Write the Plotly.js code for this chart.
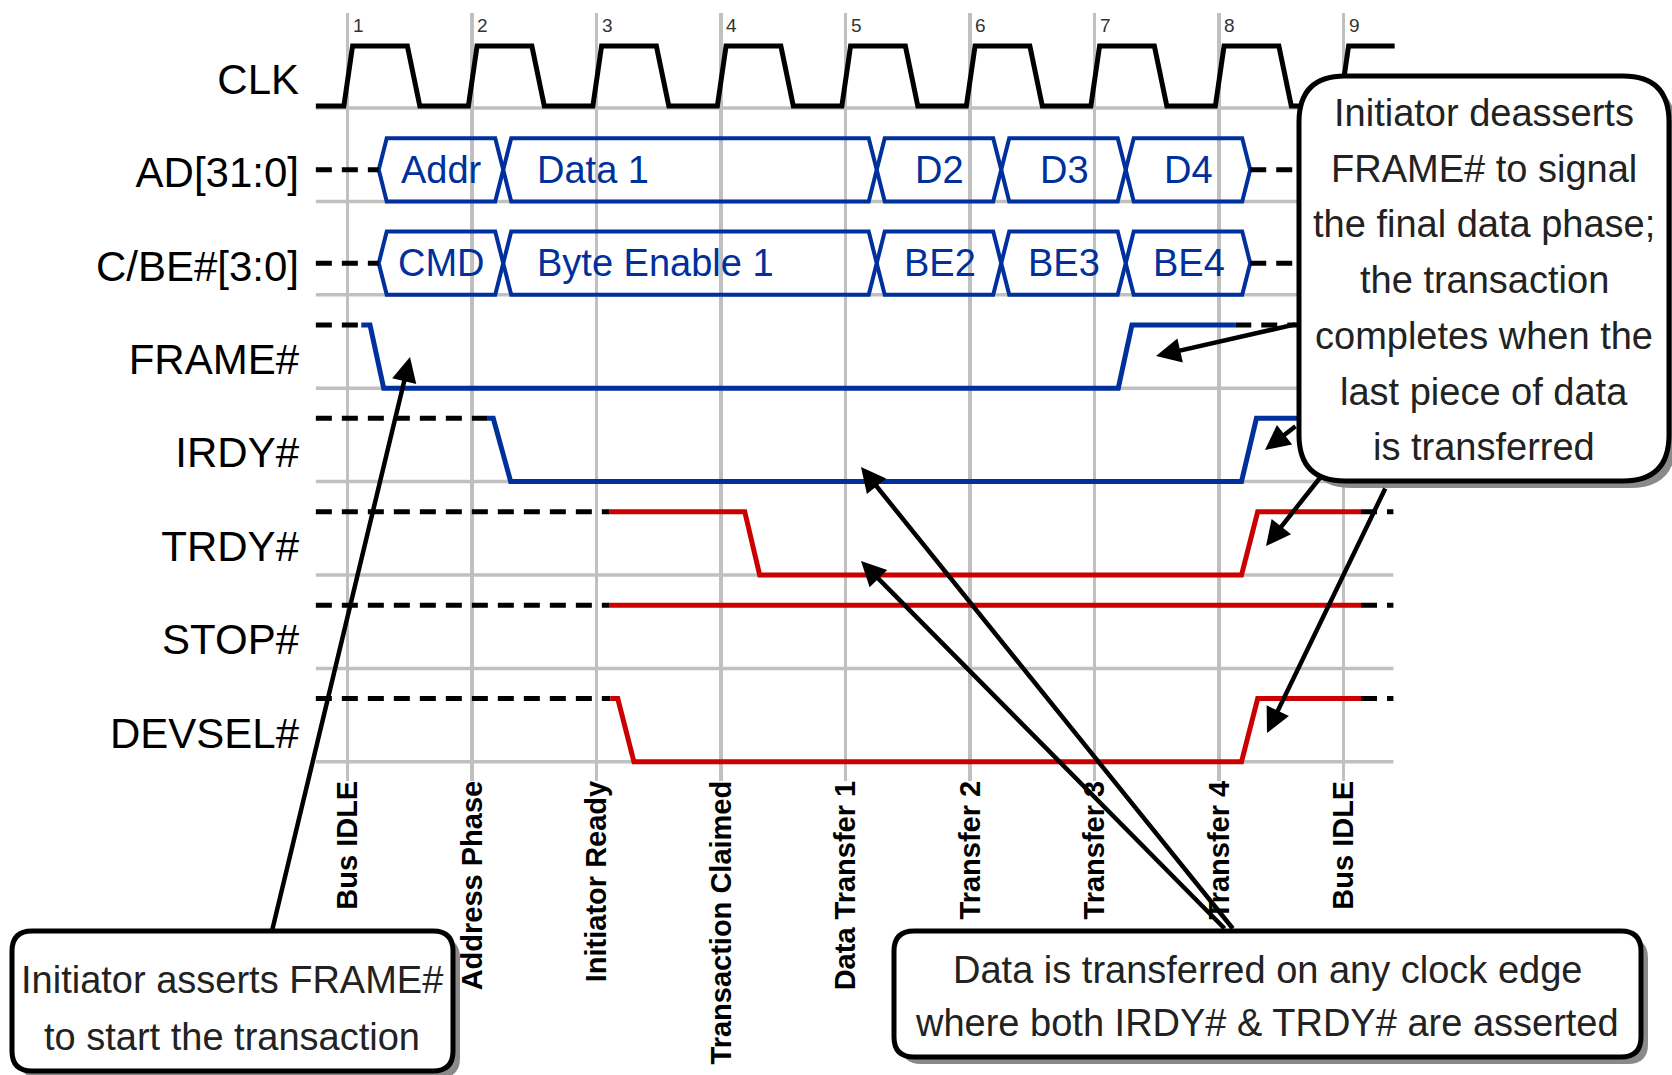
<!DOCTYPE html>
<html><head><meta charset="utf-8">
<script src="https://cdn.plot.ly/plotly-3.0.1.min.js"></script>
<style>html,body{margin:0;padding:0;background:#fff;} #chart{width:1672px;height:1075px;}</style>
</head><body><div id="chart"></div>
<script>
// ---------------- data ----------------
const cycles = [1, 2, 3, 4, 5, 6, 7, 8, 9];
const phaseLabels = ['Bus IDLE', 'Address Phase', 'Initiator Ready', 'Transaction Claimed',
  'Data Transfer 1', 'Transfer 2', 'Transfer 3', 'Transfer 4', 'Bus IDLE'];
const signalNames = ['CLK', 'AD[31:0]', 'C/BE#[3:0]', 'FRAME#', 'IRDY#', 'TRDY#', 'STOP#', 'DEVSEL#'];

// clock waveform: times (clock units) and levels (0 low / 1 high)
const clkT = [0.745,
  0.97, 1.04, 1.48, 1.58,
  1.97, 2.04, 2.48, 2.58,
  2.97, 3.04, 3.48, 3.58,
  3.97, 4.04, 4.48, 4.58,
  4.97, 5.04, 5.48, 5.58,
  5.97, 6.04, 6.48, 6.58,
  6.97, 7.04, 7.48, 7.58,
  7.97, 8.04, 8.48, 8.58,
  8.97, 9.04, 9.41];
const clkV = [0,
  0, 1, 1, 0,
  0, 1, 1, 0,
  0, 1, 1, 0,
  0, 1, 1, 0,
  0, 1, 1, 0,
  0, 1, 1, 0,
  0, 1, 1, 0,
  0, 1, 1, 0,
  0, 1, 1];

// multiplexed buses: segment boundaries (clock units) and segment labels
const busEdges = [1.25, 2.25, 5.25, 6.25, 7.25, 8.25];
const adLabels = ['Addr', 'Data 1', 'D2', 'D3', 'D4'];
const cbeLabels = ['CMD', 'Byte Enable 1', 'BE2', 'BE3', 'BE4'];

// control signals: driven waveform times and levels (1 = deasserted/high)
const frameT = [1.11, 1.18, 1.29, 7.19, 7.30, 8.13];
const frameV = [1, 1, 0, 0, 1, 1];
const irdyT = [2.12, 2.17, 2.31, 8.18, 8.30, 9.14];
const irdyV = [1, 1, 0, 0, 1, 1];
const trdyT = [3.10, 4.19, 4.31, 8.18, 8.31, 9.14];
const trdyV = [1, 1, 0, 0, 1, 1];
const stopT = [3.10, 9.14];
const stopV = [1, 1];
const devselT = [3.11, 3.17, 3.30, 8.18, 8.31, 9.14];
const devselV = [1, 1, 0, 0, 1, 1];
const traceStart = 0.745, traceEnd = 9.40;

const noteStart = ['Initiator asserts FRAME#', 'to start the transaction'];
const noteFinal = ['Initiator deasserts', 'FRAME# to signal', 'the final data phase;', 'the transaction',
  'completes when the', 'last piece of data', 'is transferred'];
const noteTransfer = ['Data is transferred on any clock edge', 'where both IRDY# & TRDY# are asserted'];

// ---------------- layout helpers ----------------
const W = 1672, H = 1075, L = 300, T = 13, B = 781;
const Y0 = 108, PITCH = 93.4, CLK0 = 347.6, CLKW = 124.5;
const AMP = 0.677;
const BLUE = '#00309c', RED = '#cc0000', GRAY = '#c0c0c0';
const FONT = 'Liberation Sans, Arial, sans-serif';
const px = x => (x - L) / (W - L);
const py = y => (B - y) / (B - T);
const yPix = y => (y - Y0) / PITCH;

const traces = [];
// gray baselines
{
  const x = [], y = [];
  signalNames.forEach((_, i) => { x.push(traceStart, traceEnd, null); y.push(i, i, null); });
  traces.push({x, y, mode: 'lines', line: {color: GRAY, width: 3.5}});
}
// clock
traces.push({x: clkT, y: clkV.map(v => v ? yPix(46) : yPix(106)), mode: 'lines',
  line: {color: '#000', width: 5}});

// buses
const D = 8 / CLKW;
function bus(row, labels) {
  const top = row - AMP, bot = row, mid = row - AMP / 2;
  const x = [], y = [];
  for (let j = 0; j < labels.length; j++) {
    const t0 = busEdges[j], t1 = busEdges[j + 1];
    x.push(t0, t0 + D, t1 - D, t1, t1 - D, t0 + D, t0, null);
    y.push(mid, top, top, mid, bot, bot, mid, null);
  }
  traces.push({x, y, mode: 'lines', line: {color: BLUE, width: 4}});
  traces.push({x: [traceStart, busEdges[0], null, busEdges[busEdges.length - 1], traceEnd],
    y: [mid, mid, null, mid, mid], mode: 'lines', line: {color: '#000', width: 5, dash: '16px,10px'}});
}
bus(1, adLabels);
bus(2, cbeLabels);

// control signals
function ctrl(row, t, v, color) {
  const hi = row - AMP;
  traces.push({x: [traceStart, t[0], null, t[t.length - 1], traceEnd], y: [hi, hi, null, hi, hi],
    mode: 'lines', line: {color: '#000', width: 5, dash: '16px,10px'}});
  traces.push({x: t, y: v.map(s => row - s * AMP), mode: 'lines', line: {color, width: 5}});
}
ctrl(3, frameT, frameV, BLUE);
ctrl(4, irdyT, irdyV, BLUE);
ctrl(5, trdyT, trdyV, RED);
ctrl(6, stopT, stopV, RED);
ctrl(7, devselT, devselV, RED);

const annotations = [];
// bus labels
function busText(row, labels) {
  labels.forEach((txt, j) => {
    const t0 = busEdges[j], t1 = busEdges[j + 1];
    const long = (t1 - t0) > 1.5;
    annotations.push({xref: 'x', yref: 'y', x: long ? t0 : (t0 + t1) / 2, xshift: long ? 32 : 1,
      y: row - AMP / 2, text: txt, showarrow: false, xanchor: long ? 'left' : 'center', yanchor: 'middle',
      font: {family: FONT, size: 38, color: BLUE}});
  });
}
busText(1, adLabels);
busText(2, cbeLabels);
// clock numbers
cycles.forEach(c => annotations.push({xref: 'x', yref: 'y', x: c, xshift: 3, y: yPix(25), text: String(c),
  showarrow: false, xanchor: 'left', yanchor: 'middle', font: {family: FONT, size: 19, color: '#333'}}));

// callouts
const shapes = [];
function rr(x0, y0, x1, y1, r) {
  const P = (a, b) => px(a) + ',' + py(b);
  return 'M' + P(x0 + r, y0) + 'L' + P(x1 - r, y0) + 'Q' + P(x1, y0) + ' ' + P(x1, y0 + r) +
    'L' + P(x1, y1 - r) + 'Q' + P(x1, y1) + ' ' + P(x1 - r, y1) + 'L' + P(x0 + r, y1) +
    'Q' + P(x0, y1) + ' ' + P(x0, y1 - r) + 'L' + P(x0, y0 + r) + 'Q' + P(x0, y0) + ' ' + P(x0 + r, y0) + 'Z';
}
function callout(x0, y0, x1, y1, r, lines, cx, ly0, lstep) {
  shapes.push({type: 'path', xref: 'paper', yref: 'paper', layer: 'above', path: rr(x0 + 7, y0 + 7, x1 + 7, y1 + 7, r),
    fillcolor: '#8a8a8a', line: {width: 0}});
  shapes.push({type: 'path', xref: 'paper', yref: 'paper', layer: 'above', path: rr(x0, y0, x1, y1, r),
    fillcolor: '#fff', line: {color: '#000', width: 5}});
  lines.forEach((t, j) => annotations.push({xref: 'paper', yref: 'paper', x: px(cx), y: py(ly0 + j * lstep),
    text: t, showarrow: false, xanchor: 'center', yanchor: 'middle', font: {family: FONT, size: 38, color: '#222'}}));
}
callout(1299, 76, 1669, 481, 46, noteFinal, 1484, 113, 55.7);
callout(12, 931, 453, 1071, 20, noteStart, 232, 980, 56.7);
callout(894, 931, 1641, 1057, 20, noteTransfer, 1267, 970, 53);

function arrow(tx, ty, hx, hy) {
  annotations.push({xref: 'paper', yref: 'paper', x: px(hx), y: py(hy), ax: tx - hx, ay: ty - hy,
    axref: 'pixel', ayref: 'pixel', text: '', showarrow: true, arrowhead: 2, arrowsize: 1.1,
    arrowwidth: 4.5, arrowcolor: '#000', standoff: 0, startstandoff: 0});
}
arrow(272, 931, 410, 357);
arrow(1297, 324, 1156, 356);
arrow(1297, 425, 1265, 450);
arrow(1323, 474, 1266, 546);
arrow(1386, 487, 1267, 733);
arrow(1234, 930, 861, 467);
arrow(1226, 930, 861, 561);

const layout = {
  width: W, height: H, margin: {l: L, r: 0, t: T, b: H - B, pad: 0},
  paper_bgcolor: '#fff', plot_bgcolor: '#fff', showlegend: false, hovermode: false,
  xaxis: {range: [1 - (CLK0 - L) / CLKW, 1 + (W - CLK0) / CLKW], tickvals: cycles, ticktext: phaseLabels,
    tickangle: -90, tickfont: {family: FONT, size: 29, color: '#000', weight: 'bold'}, ticklabelstandoff: -7,
    showgrid: true, gridcolor: GRAY, gridwidth: 3.5, zeroline: false, showline: false, ticks: ''},
  yaxis: {range: [(B - Y0) / PITCH, (T - Y0) / PITCH], tickvals: signalNames.map((_, i) => i - 0.31),
    ticktext: signalNames, tickfont: {family: FONT, size: 42, color: '#000'},
    showgrid: false, zeroline: false, showline: false, ticks: ''},
  shapes, annotations
};
Plotly.newPlot('chart', traces, layout, {staticPlot: true, displayModeBar: false});
</script></body></html>
